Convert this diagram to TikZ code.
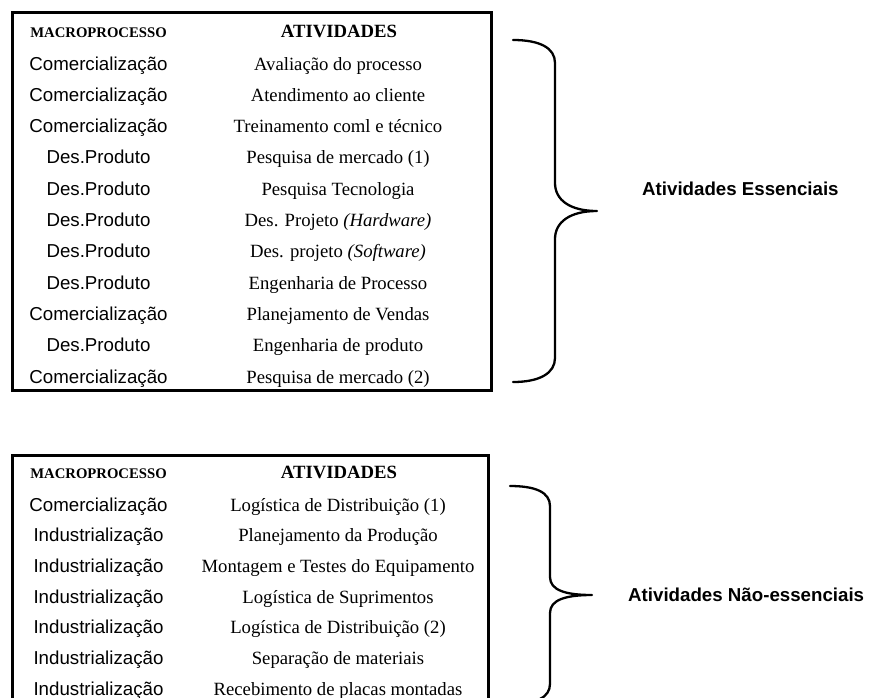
\documentclass[tikz,border=0pt]{standalone}
\usepackage{fontspec}
\setmainfont{Liberation Serif}
\setsansfont{Liberation Sans}
\begin{document}
\begin{tikzpicture}[x=1pt,y=-1pt,
  frame/.style={draw,line width=3pt},
  bracket/.style={draw,line width=2.3pt,line cap=round,line join=round},
  cell/.style={anchor=base,inner sep=0pt},
  macro/.style={cell,font=\sffamily\fontsize{18.7}{22}\selectfont},
  ativ/.style={cell,font=\rmfamily\fontsize{18.7}{22}\selectfont},
  headm/.style={cell,font=\rmfamily\bfseries\fontsize{14.7}{17}\selectfont},
  heada/.style={cell,font=\rmfamily\bfseries\fontsize{18.7}{22}\selectfont},
  grouplabel/.style={anchor=base west,inner sep=0pt,font=\sffamily\bfseries\fontsize{18.7}{22}\selectfont}]

\useasboundingbox (0,0) rectangle (882,697);
\clip (0,0) rectangle (882,697);

% ---------- essential activities table ----------
\coordinate (t1nw) at (12.5,12.5);
\coordinate (t1se) at (491,390);
\draw[frame] (t1nw) rectangle (t1se);
\node[headm] (h1m) at (98.5,37.7) {MACROPROCESSO};
\node[heada] (h1a) at (339,37.7) {ATIVIDADES};
\foreach \m/\a [count=\i, evaluate=\i as \yy using 70+(\i-1)*31.3] in {
  Comercialização/Avaliação do processo,
  Comercialização/Atendimento ao cliente,
  Comercialização/Treinamento coml e técnico,
  Des.Produto/Pesquisa de mercado (1),
  Des.Produto/Pesquisa Tecnologia,
  Des.Produto/Des. Projeto \textit{(Hardware)},
  Des.Produto/Des. projeto \textit{(Software)},
  Des.Produto/Engenharia de Processo,
  Comercialização/Planejamento de Vendas,
  Des.Produto/Engenharia de produto,
  Comercialização/Pesquisa de mercado (2)}{
  \node[macro] (e\i m) at (98.5,\yy) {\m};
  \node[ativ] (e\i a) at (338,\yy) {\a};
}

% brace grouping the essential activities
\coordinate (b1top) at (513,40);
\coordinate (b1tip) at (597,211);
\coordinate (b1bot) at (513,382);
\draw[bracket] (b1top) .. controls (540,40) and (555,48) .. (555,63)
  -- (555,183) .. controls (555,200) and (570,211) .. (b1tip)
  .. controls (570,211) and (555,222) .. (555,239)
  -- (555,358) .. controls (555,373) and (540,382) .. (b1bot);
\node[grouplabel] (lab1) at (642,195.7) {Atividades Essenciais};

% ---------- non-essential activities table ----------
\coordinate (t2nw) at (12.5,455.5);
\coordinate (t2se) at (488,740);
\draw[frame] (t2nw) rectangle (t2se);
\node[headm] (h2m) at (98.5,478.3) {MACROPROCESSO};
\node[heada] (h2a) at (339,478.3) {ATIVIDADES};
\foreach \m/\a [count=\i, evaluate=\i as \yy using 511+(\i-1)*30.7] in {
  Comercialização/Logística de Distribuição (1),
  Industrialização/Planejamento da Produção,
  Industrialização/Montagem e Testes do Equipamento,
  Industrialização/Logística de Suprimentos,
  Industrialização/Logística de Distribuição (2),
  Industrialização/Separação de materiais,
  Industrialização/Recebimento de placas montadas}{
  \node[macro] (n\i m) at (98.5,\yy) {\m};
  \node[ativ] (n\i a) at (338,\yy) {\a};
}

% brace grouping the non-essential activities
\coordinate (b2top) at (510,486);
\coordinate (b2tip) at (592,595);
\coordinate (b2bot) at (510,704);
\draw[bracket] (b2top) .. controls (535,486) and (550,492) .. (550,506)
  -- (550,577) .. controls (550,590) and (565,595) .. (b2tip)
  .. controls (565,595) and (550,600) .. (550,613)
  -- (550,684) .. controls (550,698) and (535,704) .. (b2bot);
\node[grouplabel] (lab2) at (628,601.7) {Atividades Não-essenciais};
\end{tikzpicture}
\end{document}
